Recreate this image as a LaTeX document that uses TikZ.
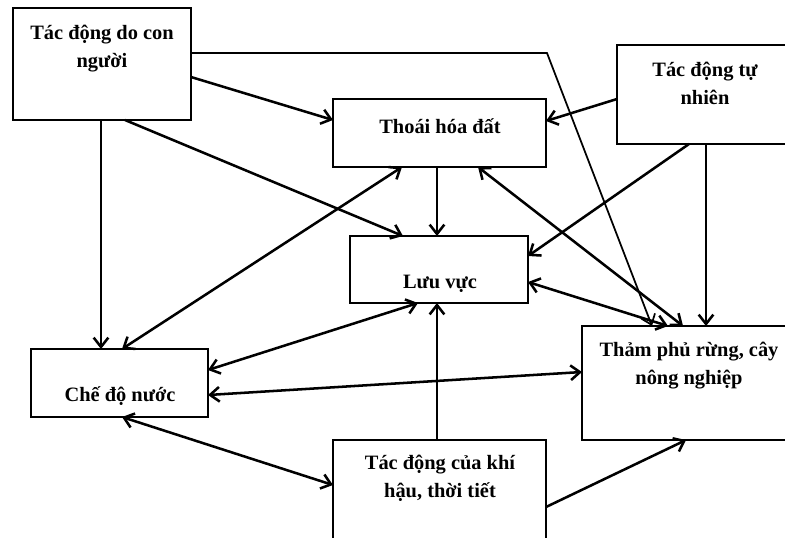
\documentclass[tikz,border=0pt]{standalone}
\usepackage{fontspec}
\setmainfont{Liberation Serif}
\usetikzlibrary{arrows.meta,calc}
\begin{document}
\begin{tikzpicture}[x=0.75pt,y=-0.75pt,
  box/.style 2 args={draw,line width=1.1pt,rectangle,inner sep=0pt,outer sep=0pt,
    minimum width=#1*0.75pt,minimum height=#2*0.75pt},
  lbl/.style={align=center,inner sep=0pt,font=\bfseries\fontsize{15.3}{21}\selectfont},
  tip/.tip={Straight Barb[length=7pt,width=11pt]},
  link/.style={line width=1.9pt,-tip},
  both/.style={line width=1.9pt,tip-tip},
  thinlink/.style={line width=1.3pt,-tip}]
\useasboundingbox (0,0) rectangle (785,537);
\clip (0,0) rectangle (785,537);

% boxes
\node[box={178}{112}] (b1) at (102,64) {};
\node[box={170}{99}]  (tn) at (702,94.5) {};
\node[box={213}{68}]  (th) at (439.5,133) {};
\node[box={178}{67}]  (lv) at (439,269.5) {};
\node[box={205}{114}] (tp) at (684.5,383) {};
\node[box={177}{68}]  (cd) at (119.5,383) {};
\node[box={213}{120}] (kh) at (439.5,500) {};

% labels
\node[lbl] (l1) at (102,49) {Tác động do con\\người};
\node[lbl] (l2) at (705,83.5) {Tác động tự\\nhiên};
\node[lbl] (l3) at (440,126) {Thoái hóa đất};
\node[lbl] (l4) at (440,284) {Lưu vực};
\node[lbl] (l5) at (689,366) {Thảm phủ rừng, cây\\nông nghiệp};
\node[lbl] (l6) at (120,396) {Chế độ nước};
\node[lbl] (l7) at (440,478.5) {Tác động của khí\\hậu, thời tiết};

% connectors
\coordinate (bend) at (547,53);
\draw[thinlink] ($(b1.north east)+(0,45)$) -- (bend) -- ($(tp.north west)+(70,0)$);
\draw[link] ($(b1.north east)+(0,69)$) -- ($(th.north west)+(0,21)$);
\draw[link] ($(b1.south west)+(112,0)$) -- ($(lv.north west)+(53,0)$);
\draw[link] ($(b1.south west)+(88,0)$) -- ($(cd.north west)+(70,0)$);
\draw[link] ($(tn.north west)+(0,54)$) -- ($(th.north east)+(0,22)$);
\draw[link] ($(tn.south west)+(72,0)$) -- ($(lv.north east)+(0,20)$);
\draw[link] ($(tn.south west)+(89,0)$) -- ($(tp.north west)+(124,0)$);
\draw[link] ($(th.south west)+(104,0)$) -- ($(lv.north west)+(87,0)$);
\draw[both] ($(th.south west)+(145,0)$) -- ($(tp.north west)+(101,0)$);
\draw[both] ($(cd.north west)+(91,0)$) -- ($(th.south west)+(69,0)$);
\draw[both] ($(lv.north east)+(0,46)$) -- ($(tp.north west)+(86,0)$);
\draw[both] ($(cd.north east)+(0,21)$) -- ($(lv.south west)+(68,0)$);
\draw[both] ($(cd.north east)+(0,46)$) -- ($(tp.north west)+(0,46)$);
\draw[both] ($(cd.south west)+(91,0)$) -- ($(kh.north west)+(0,45)$);
\draw[link] ($(kh.north west)+(104,0)$) -- ($(lv.south west)+(87,0)$);
\draw[link] ($(kh.north east)+(0,67)$) -- ($(tp.south west)+(104,0)$);
\end{tikzpicture}
\end{document}
